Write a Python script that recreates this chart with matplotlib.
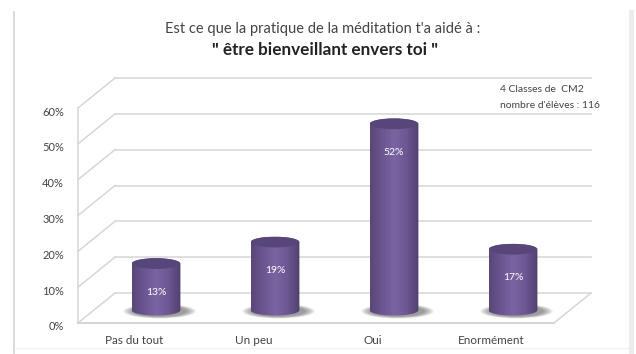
import numpy as np
import matplotlib
matplotlib.use('Agg')
import matplotlib.pyplot as plt
from matplotlib.colors import LinearSegmentedColormap
from matplotlib.patches import Ellipse, Polygon
from matplotlib.transforms import ScaledTranslation

categories = ['Pas du tout', 'Un peu', 'Oui', 'Enormément']
values = [13, 19, 52, 17]
y_ticks = [0, 10, 20, 30, 40, 50, 60]

W, H = 636, 354
plt.rcParams['font.family'] = ['Lato', 'DejaVu Sans']

fig = plt.figure(figsize=(W / 100, H / 100), dpi=100)
ax = fig.add_axes([78 / W, 1 - 323 / H, 476 / W, 215 / H])
for s in ax.spines.values():
    s.set_visible(False)

# depth of the 3D floor, in data units
dx = 37 / 119
dy = 30 / (215 / 60)
grid = '#d6d6d6'

for v in y_ticks:
    ax.plot([-0.5 + dx, 3.5 + dx], [v + dy, v + dy], color=grid, lw=1.1, clip_on=False, zorder=1)
    ax.plot([-0.5, -0.5 + dx], [v, v + dy], color=grid, lw=1.1, clip_on=False, zorder=1)
ax.plot([-0.5, -0.5], [0, 60], color=grid, lw=1.1, clip_on=False, zorder=1)
ax.plot([-0.5, 3.5], [0, 0], color=grid, lw=1.5, clip_on=False, zorder=1)
ax.plot([3.5, 3.5 + dx], [0, dy], color=grid, lw=1.1, clip_on=False, zorder=1)

# horizontal shading across each cylinder
cyl = LinearSegmentedColormap.from_list('cyl', ['#584778', '#6b5691', '#7a65a3', '#6c5792', '#50406f'])
shade = np.linspace(0, 1, 128).reshape(1, -1)

rx = 0.205       # half width of a cylinder
ry = 1.5         # half height of its ellipses
base_x = dx / 2
base_y = dy / 2

for i, v in enumerate(values):
    cx = i + base_x
    y0 = base_y - 0.6
    y1 = y0 + v

    # soft shadow on the floor
    for k in np.linspace(1.35, 1.0, 8):
        ax.add_patch(Ellipse((cx + 0.03, y0 - 0.3), 2 * rx * 1.1 * k, 2 * ry * k,
                             color='#3a3a3a', alpha=0.08, lw=0, clip_on=False, zorder=2))

    # body outline: rounded base, then back over the top edge
    t = np.linspace(np.pi, 2 * np.pi, 40)
    u = np.linspace(0, np.pi, 40)
    xs = np.r_[cx + rx * np.cos(t), cx + rx * np.cos(u)]
    ys = np.r_[y0 + ry * np.sin(t), y1 + ry * np.sin(u)]
    body = Polygon(np.c_[xs, ys], closed=True, transform=ax.transData, fc='none', ec='none')
    ax.add_patch(body)
    im = ax.imshow(shade, cmap=cyl, extent=[cx - rx, cx + rx, y0 - ry, y1 + ry],
                   aspect='auto', zorder=3)
    im.set_clip_path(body)

    ax.add_patch(Ellipse((cx, y1), 2 * rx * 0.98, 2 * ry, fc='#57467a', ec='none', zorder=4))
    ax.text(cx, y1 - 8, f'{v}%', color='white', fontsize=7.5, ha='center', va='center', zorder=5)

ax.set_xlim(-0.5, 3.5)
ax.set_ylim(0, 60)

ax.set_xticks(range(4))
ax.set_xticklabels(categories, fontsize=8.4, color='#444444')
ax.set_yticks(y_ticks)
ax.set_yticklabels([f'{v}%' for v in y_ticks], fontsize=8, color='#444444')
ax.tick_params(length=0)
ax.tick_params(axis='x', pad=9)
ax.tick_params(axis='y', pad=10)

# nudge the tick labels away from their gridlines
for lab in ax.get_xticklabels():
    lab.set_transform(lab.get_transform() + ScaledTranslation(-3 / 100, 0, fig.dpi_scale_trans))
for lab in ax.get_yticklabels():
    lab.set_transform(lab.get_transform() + ScaledTranslation(0, -3 / 100, fig.dpi_scale_trans))

fig.text(323 / W, 1 - 29 / H, "Est ce que la pratique de la méditation t'a aidé à :",
         fontsize=10.5, color='#444444', ha='center', va='center')
fig.text(325 / W, 1 - 50 / H, '" être bienveillant envers toi "', fontsize=12.3,
         fontweight='bold', color='#222222', ha='center', va='center')
fig.text(500 / W, 1 - 89 / H, '4 Classes de  CM2', fontsize=7.5, color='#444444', va='center')
fig.text(500 / W, 1 - 105 / H, "nombre d'élèves : 116", fontsize=7.5, color='#444444', va='center')

# page border
fig.add_artist(plt.Line2D([14 / W, 14 / W], [0, 1 - 12 / H], color='#d8d8d8', lw=1.3))
fig.add_artist(plt.Line2D([630.5 / W, 630.5 / W], [0, 1 - 12 / H], color='#ececec', lw=3.5))
fig.add_artist(plt.Line2D([15 / W, 628 / W], [1 - 348 / H, 1 - 348 / H], color='#f2f2f2', lw=1))

fig.savefig('out.png', dpi=100)
